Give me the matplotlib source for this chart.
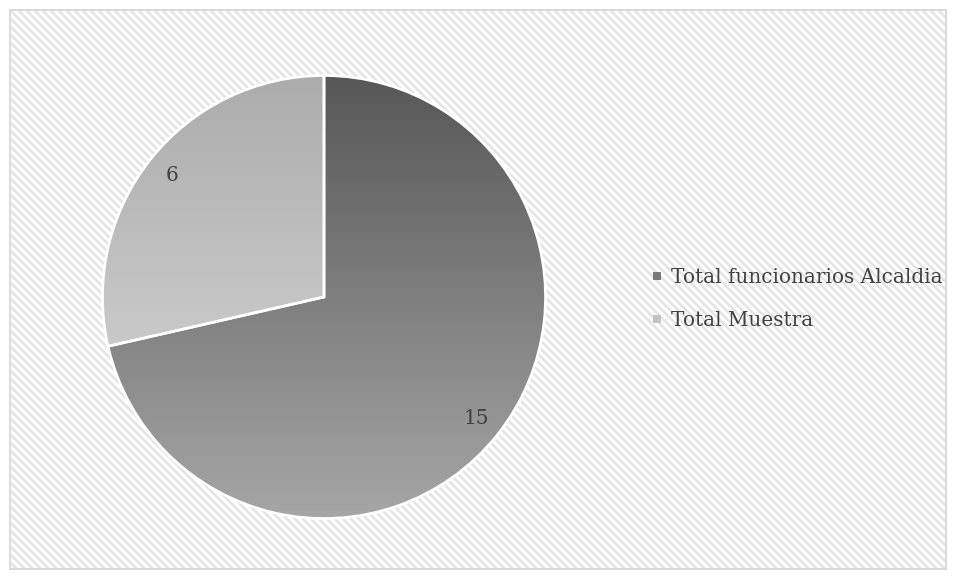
import matplotlib.pyplot as plt
import numpy as np
from matplotlib.patches import Rectangle
from matplotlib.lines import Line2D
from matplotlib.colors import to_rgb

categories = ['Total funcionarios Alcaldia', 'Total Muestra']
values = [15, 6]

DPI = 120
plt.rcParams['font.family'] = ['DejaVu Serif']
plt.rcParams['hatch.linewidth'] = 1.5

fig = plt.figure(figsize=(956 / DPI, 579 / DPI), dpi=DPI)

# hatched chart area with thin grey border (drawn in a background axes)
bgax = fig.add_axes([0, 0, 1, 1], zorder=-1)
bgax.set_xlim(0, 956)
bgax.set_ylim(579, 0)
bgax.axis('off')
bgax.add_patch(Rectangle((10, 10), 936, 559, facecolor='white', edgecolor='#e4e4e4',
                         lw=0, hatch='\\' * 5))
bgax.add_patch(Rectangle((10, 10), 936, 559, facecolor='none', edgecolor='#d9d9d9', lw=1.2))

ax = fig.add_axes([102.5 / 956, 60.5 / 579, 443 / 956, 443 / 579])
ax.set_facecolor('none')

# gradient ends (top, bottom) for each slice
grads = [('#575757', '#a6a6a6'), ('#acacac', '#dcdcdc')]
mids = ['#7a7a7a', '#c3c3c3']

wedges, texts, autotexts = ax.pie(
    values, startangle=90, counterclock=False, colors=mids,
    autopct=lambda p: '{:.0f}'.format(p * sum(values) / 100), pctdistance=0.88,
    wedgeprops=dict(edgecolor='white', linewidth=1.6),
    textprops=dict(color='#404040', fontsize=12))

for w, (c0, c1) in zip(wedges, grads):
    a = np.array(to_rgb(c0))
    b = np.array(to_rgb(c1))
    t = np.linspace(0, 1, 256)[:, None]
    img = (a + (b - a) * t)[:, None, :]
    im = ax.imshow(img, extent=(-1, 1, -1, 1), origin='upper', aspect='auto', zorder=1)
    im.set_clip_path(w)
    w.set_facecolor('none')
    w.set_zorder(2)
for t in autotexts:
    t.set_zorder(3)

ax.set_xlim(-1.0, 1.0)
ax.set_ylim(-1.0, 1.0)
ax.axis('off')

handles = [Line2D([], [], linestyle='none', marker='s', markersize=5,
                  markerfacecolor=c, markeredgecolor='none') for c in mids]
fig.legend(handles, categories, loc='center left',
           bbox_to_anchor=(633 / 956, 1 - 299 / 579), frameon=False,
           fontsize=12, labelcolor='#404040', handlelength=0.6,
           handletextpad=0.4, labelspacing=1.2)

fig.savefig('out.png', dpi=DPI)
